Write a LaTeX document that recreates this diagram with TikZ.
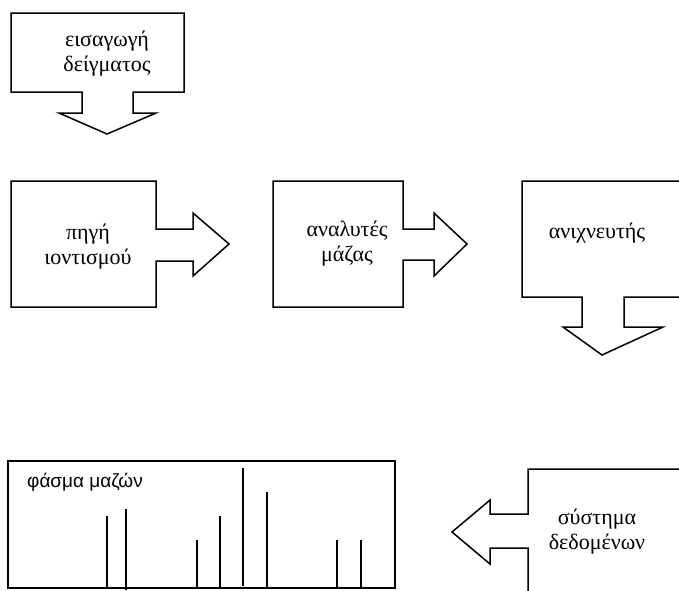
\documentclass[tikz,border=0pt]{standalone}
\usepackage{fontspec}
\setmainfont{Liberation Serif}
\newfontfamily\labelsans{Liberation Sans}
\begin{document}
\begin{tikzpicture}[x=1pt,y=-1pt,
  block/.style={draw=black,line width=1.5pt,line join=miter,fill=white},
  caption/.style={font=\fontsize{22}{25}\selectfont,align=center,inner sep=0pt},
  peak/.style={line width=1.8pt}]
\useasboundingbox (0,0) rectangle (679,590);
\begin{scope}
\clip (0,0) rectangle (679,590);

% sample inlet: box with a downward arrow
\draw[block] (11,13) -- (184,13) -- (184,92) -- (133,92) -- (133,113) -- (156,113)
  -- (107,134) -- (59,113) -- (82,113) -- (82,92) -- (11,92) -- cycle;
\node[caption] (inlet) at (107,54) {εισαγωγή\\δείγματος};

% ion source: box with a right arrow
\draw[block] (11,181) -- (156,181) -- (156,229) -- (193,229) -- (193,213) -- (229,244)
  -- (193,276) -- (193,261) -- (156,261) -- (156,307) -- (11,307) -- cycle;
\node[caption] (source) at (88,247) {πηγή\\ιοντισμού};

% mass analyser: box with a right arrow
\draw[block] (273,181) -- (403,181) -- (403,229) -- (434,229) -- (434,213) -- (467,244)
  -- (434,276) -- (434,260) -- (403,260) -- (403,307) -- (273,307) -- cycle;
\node[caption] (analyser) at (347,244) {αναλυτές\\μάζας};

% detector: box with a downward arrow, running off the right edge
\draw[block] (522,181) -- (700,181) -- (700,297) -- (624,297) -- (624,327) -- (663,327)
  -- (602,355) -- (563,327) -- (582,327) -- (582,297) -- (522,297) -- cycle;
\node[caption] (detector) at (597,233) {ανιχνευτής};

% data system: box with a left arrow, running off the right and bottom edges
\draw[block] (700,469) -- (528,469) -- (528,514) -- (490,514) -- (490,500) -- (452,532)
  -- (490,564) -- (490,548) -- (528,548) -- (528,610) -- (700,610);
\node[caption] (data) at (597,532) {σύστημα\\δεδομένων};

% mass spectrum panel
\draw[block] (8,461) rectangle (395,588);
\node[font=\labelsans\fontsize{19}{23}\selectfont,anchor=west,inner sep=0pt] (spectrum) at (27,482) {φάσμα μαζών};
\draw[peak] (107,588) -- (107,516);
\draw[peak] (126,590) -- (126,509);
\draw[peak] (197,588) -- (197,540);
\draw[peak] (220,588) -- (220,516);
\draw[peak] (243,586) -- (243,468);
\draw[peak] (267,588) -- (267,492);
\draw[peak] (337,588) -- (337,540);
\draw[peak] (361,588) -- (361,540);
\end{scope}
\end{tikzpicture}
\end{document}
